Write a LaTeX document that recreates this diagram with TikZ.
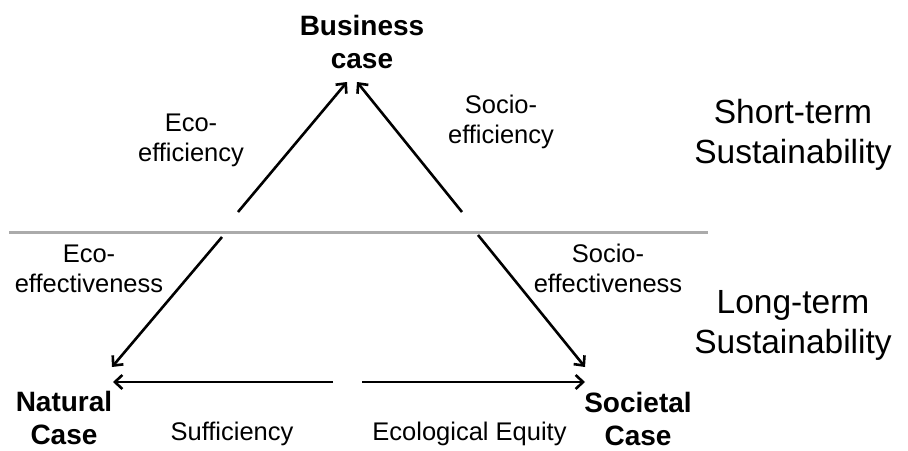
\documentclass[tikz,border=0pt]{standalone}
\usepackage{fontspec}
\setmainfont{Liberation Sans}
\usetikzlibrary{arrows.meta}
\begin{document}
\begin{tikzpicture}[x=1pt,y=-1pt,
  lbl/.style={inner sep=0pt,align=center,font=\fontsize{25.5}{30}\selectfont},
  bigcase/.style={inner sep=0pt,align=center,font=\fontsize{28}{33}\selectfont\bfseries},
  horizon/.style={inner sep=0pt,align=center,font=\fontsize{33.5}{40}\selectfont},
  arr/.style={line width=2.6pt,-{Straight Barb[length=7.5pt,width=14pt,line width=2.6pt]}},
  divider/.style={line width=3pt,color=black!33}]
\useasboundingbox (0,0) rectangle (908,450);
% labels
\node[bigcase] (business) at (362,41.7) {Business\\case};
\node[bigcase] (natural) at (64,418) {Natural\\Case};
\node[bigcase] (societal) at (638,418.5) {Societal\\Case};
\node[horizon] (short) at (793,134.5) {Short-term\\Sustainability};
\node[horizon] (long) at (793,325.5) {Long-term\\Sustainability};
\node[lbl] (ecoeff) at (191,140.5) {Eco-\\efficiency};
\node[lbl] (socioeff) at (501,121.5) {Socio-\\efficiency};
\node[lbl] (ecoeffect) at (89,268.5) {Eco-\\effectiveness};
\node[lbl] (socioeffect) at (608,268.5) {Socio-\\effectiveness};
\node[lbl,anchor=base] (suff) at (232,440) {Sufficiency};
\node[lbl,anchor=base] (equity) at (469.5,440) {Ecological Equity};
% connector end points
\coordinate (a1s) at (238,212);
\coordinate (a1e) at (347,82);
\coordinate (a2s) at (462,212);
\coordinate (a2e) at (357,82);
\coordinate (a3s) at (222,237);
\coordinate (a3e) at (112,367);
\coordinate (a4s) at (478,235);
\coordinate (a4e) at (585,367);
\coordinate (a5s) at (333,382);
\coordinate (a5e) at (113,382);
\coordinate (a6s) at (362,382);
\coordinate (a6e) at (585,382);
\coordinate (dl) at (9,232);
\coordinate (dr) at (708,232);
% divider
\draw[divider] (dl) -- (dr);
% arrows
\draw[arr] (a1s) -- (a1e);
\draw[arr] (a2s) -- (a2e);
\draw[arr] (a3s) -- (a3e);
\draw[arr] (a4s) -- (a4e);
\draw[arr] (a5s) -- (a5e);
\draw[arr] (a6s) -- (a6e);
\end{tikzpicture}
\end{document}
